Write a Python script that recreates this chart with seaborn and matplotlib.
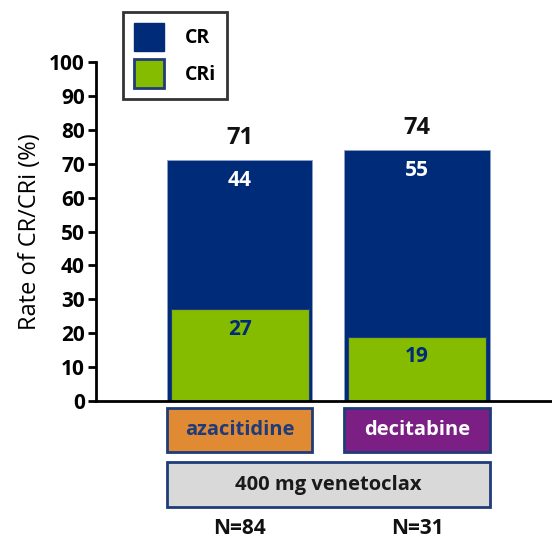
import seaborn as sns
import matplotlib.pyplot as plt
import matplotlib.patches as mpatches
import pandas as pd

# data
regimens = ['azacitidine', 'decitabine']
cr = [44, 55]
cri = [27, 19]
nPatients = [84, 31]
regimenColors = ['#E08A33', '#7B1F85']
regimenTextColors = ['#1F3B7A', 'white']

navy = '#002B79'
green = '#85BC00'
border = '#1F3B7A'

sns.set_theme(style='ticks')
plt.rcParams['font.family'] = ['Open Sans', 'DejaVu Sans']
plt.rcParams['text.color'] = 'black'

totals = [a + b for a, b in zip(cr, cri)]
data = pd.DataFrame({'regimen': regimens, 'total': totals, 'CRi': cri, 'CR': cr})

fig = plt.figure(figsize=(5.52, 5.39), dpi=100)
ax = fig.add_axes([0.174, 0.256, 0.826, 0.629])

sns.barplot(x='regimen', y='total', data=data, color=navy, width=0.82,
            saturation=1, edgecolor='#8CA0C8', linewidth=0.6, ax=ax)
sns.barplot(x='regimen', y='CRi', data=data, color=green, width=0.78,
            saturation=1, edgecolor=border, linewidth=0.8, ax=ax)

ax.set_xlim(-0.81, 1.76)
ax.set_ylim(0, 100)
ax.set_yticks(range(0, 101, 10))
ax.set_xticks([])
ax.set_xlabel('')
ax.set_ylabel('Rate of CR/CRi (%)', fontsize=17, labelpad=5, color='black')
for lab in ax.get_yticklabels():
    lab.set_fontweight('bold')
    lab.set_fontsize(15)
    lab.set_color('black')
ax.tick_params(axis='y', length=6, width=2, pad=2, color='black')
sns.despine(ax=ax)
ax.spines['left'].set_linewidth(2)
ax.spines['bottom'].set_linewidth(2)
ax.spines['left'].set_color('black')
ax.spines['bottom'].set_color('black')

# values on the bars
for i in range(len(regimens)):
    ax.text(i, totals[i] + 6.5, str(totals[i]), ha='center', va='center',
            fontsize=17, fontweight='bold', color='#111111')
    ax.text(i, totals[i] - 6, str(cr[i]), ha='center', va='center',
            fontsize=15, fontweight='bold', color='white')
    ax.text(i, cri[i] - 6, str(cri[i]), ha='center', va='center',
            fontsize=15, fontweight='bold', color=navy)

# treatment boxes below the axis
tr = ax.get_xaxis_transform()
for i in range(len(regimens)):
    ax.add_patch(mpatches.Rectangle((i - 0.41, -0.150), 0.82, 0.13, transform=tr,
                                    clip_on=False, facecolor=regimenColors[i],
                                    edgecolor=border, linewidth=2))
    ax.text(i, -0.085, regimens[i], transform=tr, ha='center', va='center',
            fontsize=14.5, fontweight='bold', color=regimenTextColors[i])
    ax.text(i, -0.375, 'N=' + str(nPatients[i]), transform=tr, ha='center',
            va='center', fontsize=15, fontweight='bold', color='#111111')

ax.add_patch(mpatches.Rectangle((-0.41, -0.313), 1.82, 0.133, transform=tr,
                                clip_on=False, facecolor='#D9D9D9',
                                edgecolor=border, linewidth=2))
ax.text(0.5, -0.2465, '400 mg venetoclax', transform=tr, ha='center',
        va='center', fontsize=14.5, fontweight='bold', color='#1a1a1a')

# legend
handles = [mpatches.Patch(facecolor=navy, edgecolor=navy, label='CR'),
           mpatches.Patch(facecolor=green, edgecolor=border, linewidth=2, label='CRi')]
leg = fig.legend(handles=handles, loc='upper left', bbox_to_anchor=(0.223, 0.978),
                 frameon=True, fancybox=False, fontsize=14, handlelength=1.55,
                 handleheight=1.9, handletextpad=1.1, borderpad=0.55,
                 labelspacing=0.4, borderaxespad=0)
leg.get_frame().set_edgecolor('black')
leg.get_frame().set_linewidth(2)
for t in leg.get_texts():
    t.set_fontweight('bold')
    t.set_color('black')

fig.savefig('out.png', dpi=100)
